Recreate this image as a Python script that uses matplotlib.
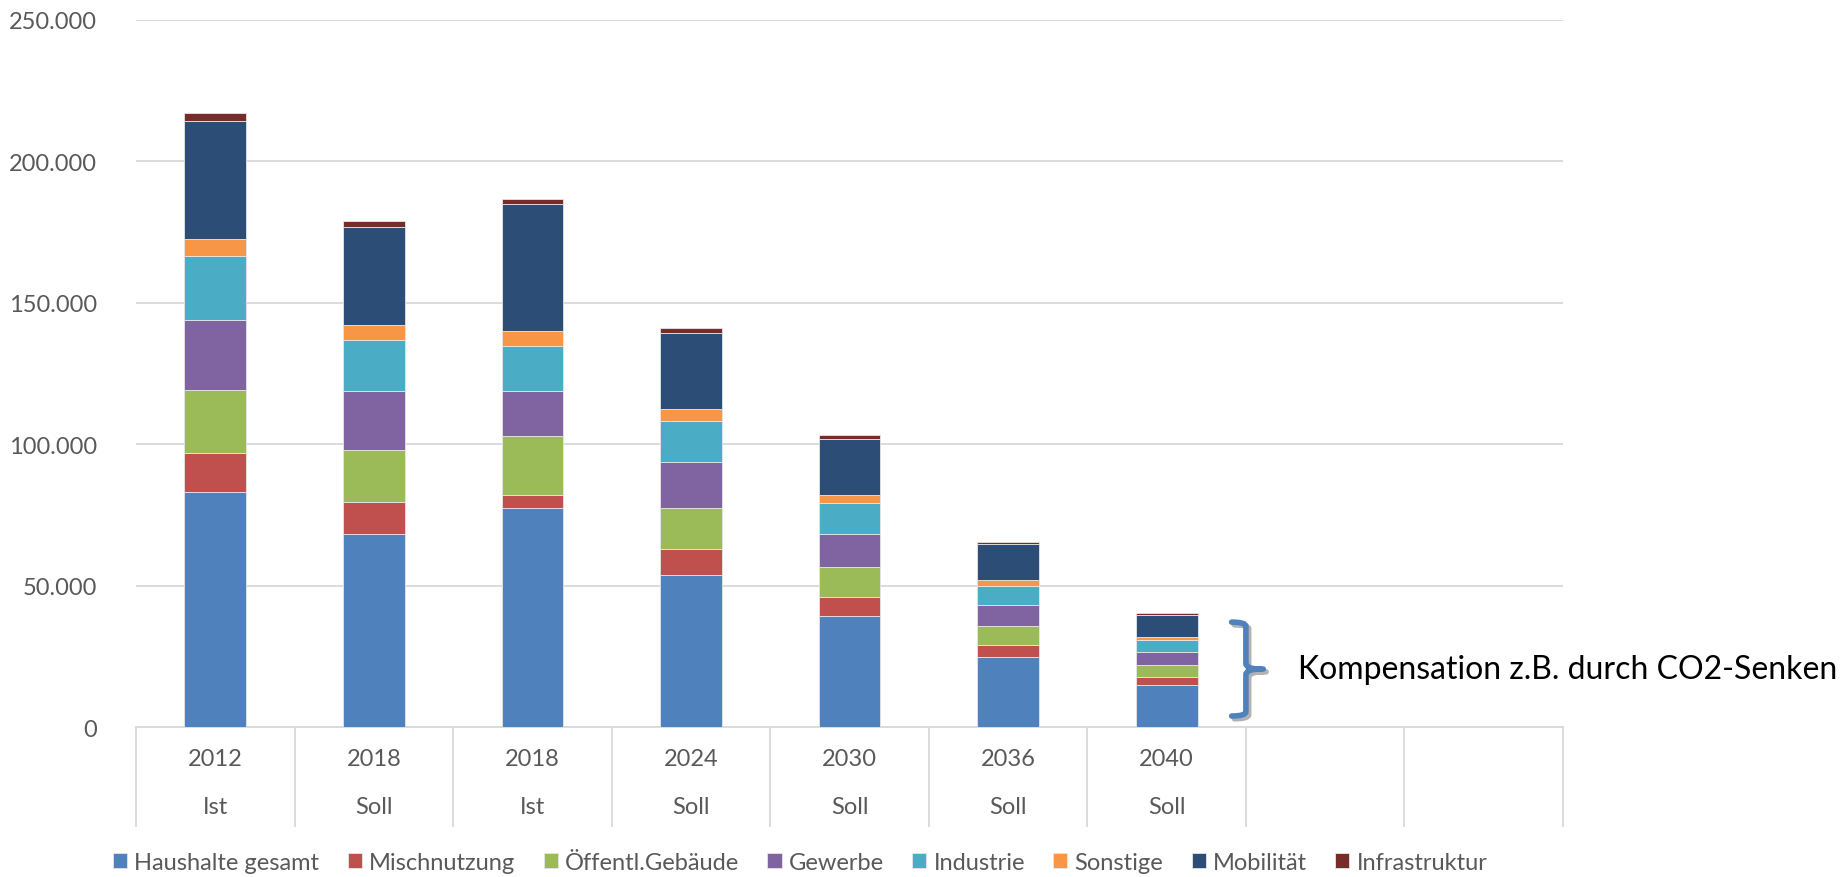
import matplotlib
matplotlib.use("Agg")
import matplotlib.pyplot as plt
import numpy as np
from matplotlib.path import Path
from matplotlib.patches import PathPatch
import matplotlib.patheffects as pe
from matplotlib.ticker import FuncFormatter

matplotlib.rcParams.update({'font.family': ['Lato', 'DejaVu Sans'], 'font.size': 16})

years = ["2012", "2018", "2018", "2024", "2030", "2036", "2040", "", ""]
kind = ["Ist", "Soll", "Ist", "Soll", "Soll", "Soll", "Soll", "", ""]

series = ["Haushalte gesamt", "Mischnutzung", "Öffentl.Gebäude", "Gewerbe",
          "Industrie", "Sonstige", "Mobilität", "Infrastruktur"]
colors = ["#4F81BD", "#C0504D", "#9BBB59", "#8064A2",
          "#4BACC6", "#F79646", "#2C4D75", "#772C2A"]

haushalte = [83000, 68400, 77600, 53900, 39400, 24900, 15000]
misch = [13800, 11200, 4300, 9100, 6600, 4200, 2600]
oeffentl = [22200, 18500, 21100, 14400, 10600, 6700, 4200]
gewerbe = [25000, 20600, 15700, 16400, 11700, 7500, 4600]
industrie = [22400, 18300, 16200, 14500, 11000, 6700, 4200]
sonstige = [6200, 5200, 5200, 4000, 2800, 2000, 1300]
mobilitaet = [41800, 34500, 45000, 27200, 19900, 12600, 7600]
infra = [2700, 2300, 1600, 1600, 1300, 800, 700]

data = [haushalte, misch, oeffentl, gewerbe, industrie, sonstige, mobilitaet, infra]
grey = "#595959"

fig = plt.figure(figsize=(18.44, 8.78), dpi=100)
ax = fig.add_axes([0.0738, 0.1708, 0.7738, 0.8053])

x = np.arange(len(haushalte))
bottom = np.zeros(len(x))
for name, vals, c in zip(series, data, colors):
    ax.bar(x, vals, 0.39, bottom=bottom, color=c, label=name,
           edgecolor="#e6e6e6", linewidth=0.6, zorder=3)
    bottom += np.array(vals)

ax.set_xlim(-0.5, len(years) - 0.5)
ax.set_ylim(0, 250000)
ax.set_yticks(np.arange(0, 250001, 50000))
ax.yaxis.set_major_formatter(FuncFormatter(lambda v, p: f"{int(v):,}".replace(",", ".")))
ax.grid(axis="y", color="#d9d9d9", linewidth=1.3, zorder=0)
for s in ["top", "right", "left"]:
    ax.spines[s].set_visible(False)
ax.spines["bottom"].set_color("#d9d9d9")
ax.spines["bottom"].set_linewidth(1.3)
ax.tick_params(axis="y", length=0, labelcolor=grey, labelsize=17, pad=28)
ax.set_xticks([])

# two-level category axis
trans = ax.get_xaxis_transform()
for i, (yr, k) in enumerate(zip(years, kind)):
    ax.text(i, -0.045, yr, transform=trans, ha="center", va="center", color=grey, fontsize=17)
    ax.text(i, -0.113, k, transform=trans, ha="center", va="center", color=grey, fontsize=17)
for b in np.arange(-0.5, len(years), 1.0):
    ax.plot([b, b], [0, -0.14], transform=trans, color="#d9d9d9", lw=1.3, clip_on=False)

# brace for compensation
y0, y1 = 3900, 37100
ym = (y0 + y1) / 2
xa, xb, xt = 6.41, 6.50, 6.61
verts = [(xa, y1), (xb, y1), (xb, y1 - 1500), (xb, ym + 2000),
         (xb, ym), (xt - 0.02, ym), (xt, ym),
         (xt - 0.02, ym), (xb, ym), (xb, ym - 2000),
         (xb, y0 + 1500), (xb, y0), (xa, y0)]
codes = [Path.MOVETO, Path.CURVE3, Path.CURVE3, Path.LINETO,
         Path.CURVE3, Path.CURVE3, Path.LINETO,
         Path.MOVETO, Path.CURVE3, Path.CURVE3,
         Path.LINETO, Path.CURVE3, Path.CURVE3]
brace = PathPatch(Path(verts, codes), fill=False, edgecolor="#4F81BD", lw=4,
                  capstyle="round", clip_on=False, zorder=4,
                  path_effects=[pe.SimpleLineShadow(offset=(2, -2), alpha=0.3), pe.Normal()])
ax.add_patch(brace)
ax.text(6.83, ym, "Kompensation z.B. durch CO2-Senken", ha="left", va="center",
        fontsize=23, color="black", clip_on=False)

fig.legend(loc="center", bbox_to_anchor=(0.434, 0.017), ncol=8, frameon=False,
           handlelength=0.6, handleheight=0.6, handletextpad=0.3, columnspacing=1.2,
           fontsize=17, labelcolor=grey)

fig.savefig("out.png", dpi=100)
